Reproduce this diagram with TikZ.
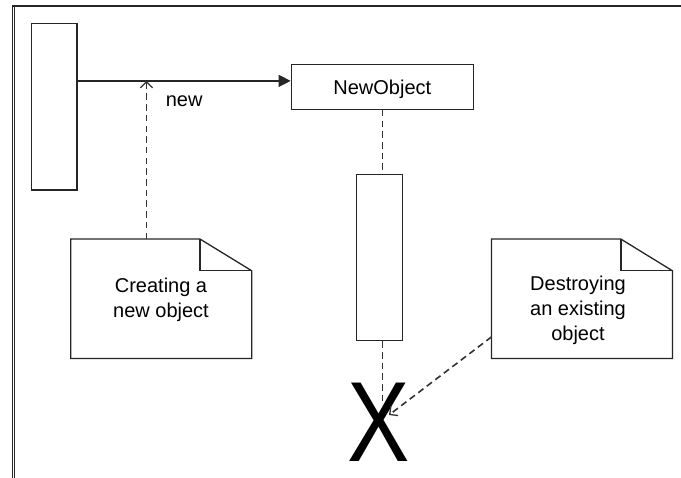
\documentclass[tikz,border=0pt]{standalone}
\usepackage{fontspec}
\setmainfont{Liberation Sans}
\usetikzlibrary{arrows.meta,calc}
\begin{document}
\begin{tikzpicture}[x=1pt,y=-1pt,
  ln/.style={draw=black!85,line width=1.3pt},
  box/.style={ln,rectangle,inner sep=0pt,fill=white},
  dsh/.style={black!80,line width=1.6pt,dash pattern=on 6.5pt off 4.2pt},
  openhead/.style={-{Straight Barb[length=6pt,width=12pt,line width=1.3pt]}},
  lbl/.style={font=\fontsize{20}{25}\selectfont,inner sep=0pt,align=center},
  note/.style={rectangle,inner sep=0pt,minimum width=180.6pt,minimum height=119pt}]
\useasboundingbox (0,0) rectangle (681,478);
% frame
\draw[black!85,line width=1.6pt] (11.5,5.8) -- (681,5.8);
\draw[black!85,line width=0.9pt] (12,5) -- (12,478);
\draw[black!85,line width=0.9pt] (14.6,6.6) -- (14.6,478);
% activation boxes and object
\node[box,minimum width=45.5pt,minimum height=166.7pt] (act1) at (54.3,106.7) {};
\node[box,minimum width=182pt,minimum height=45pt,lbl,text depth=0pt] (newobj) at (382.3,86.8) {NewObject};
\node[box,minimum width=45.6pt,minimum height=166pt] (act2) at (379.5,257.7) {};
% message
\path (act1.north east) ++(0,58.2) coordinate (m1);
\draw[ln,-{Triangle[length=12pt,width=12pt]}] (m1) -- (m1 -| newobj.west);
\node[lbl,anchor=base] (newlbl) at (184.2,106.7) {new};
% lifeline
\draw[dsh] (newobj.south) -- (newobj.south |- act2.north);
\node[font=\fontsize{114}{114}\selectfont,inner sep=0pt,xscale=0.82,transform shape] (destroy) at (379,422.5) {X};
\coordinate (lend) at (382.3,404);
\draw[dsh] (newobj.south |- act2.south) -- (lend);
% note 1
\node[note] (note1) at (161.3,298.8) {};
\draw[ln,line join=miter] (note1.north west) -- ($(note1.north east)+(-51.7,0)$) -- ($(note1.north east)+(0,31.7)$) -- (note1.south east) -- (note1.south west) -- cycle;
\draw[ln,line join=miter] ($(note1.north east)+(-51.7,0)$) -- ($(note1.north east)+(-51.7,31.7)$) -- ($(note1.north east)+(0,31.7)$);
\node[lbl,anchor=north] (note1txt) at (161,277.8) {Creating a\\new object};
% note 2
\node[note] (note2) at (582,298.8) {};
\draw[ln,line join=miter] (note2.north west) -- ($(note2.north east)+(-51.6,0)$) -- ($(note2.north east)+(0,31.7)$) -- (note2.south east) -- (note2.south west) -- cycle;
\draw[ln,line join=miter] ($(note2.north east)+(-51.6,0)$) -- ($(note2.north east)+(-51.6,31.7)$) -- ($(note2.north east)+(0,31.7)$);
\node[lbl,anchor=north] (note2txt) at (578,275.7) {Destroying\\an existing\\object};
% note connectors
\path (note1.north west) ++(75.7,0) coordinate (c1);
\draw[dsh,openhead] (c1) -- (c1 |- m1);
\path (note2.south west) ++(0,-21.6) coordinate (c2);
\coordinate (xhit) at (389,415);
\draw[dsh,openhead] (c2) -- (xhit);
\end{tikzpicture}
\end{document}
